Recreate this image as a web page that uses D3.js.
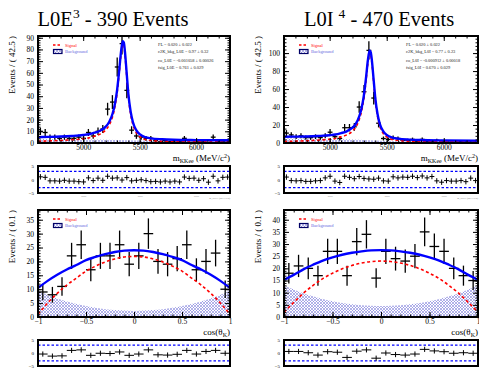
<!DOCTYPE html>
<html>
<head>
<meta charset="utf-8">
<script src="https://cdn.jsdelivr.net/npm/d3@7"></script>
<style>
body { margin: 0; background: #fff; }
svg { display: block; }
svg text { font-family: "Liberation Serif", "Times New Roman", Times, "DejaVu Serif", serif; }
</style>
</head>
<body>
<svg id="chart" width="479" height="370"></svg>
<script>
// ---- data ----
const massRange = [4600, 6300];          // 40 bins of 42.5 MeV
const cosRange = [-1, 1];                // 20 bins of 0.1

const massCountsL0E = [10, 9, 5, 5, 4, 5, 4, 4, 5, 4, 9, 6, 10, 12, 29, 35, 65, 85, 45, 11,
                       6, 5, 4, 4, 2, 1, 2, 1, 2, 1, 4, 2, 2, 1, 1, 0, 5, 1, 1, 2];
const massCountsL0I = [11, 9, 7, 8, 6, 6, 7, 6, 8, 12, 7, 5, 17, 17, 18, 40, 57, 103, 50, 22,
                       5, 4, 6, 5, 3, 3, 4, 2, 4, 2, 2, 3, 2, 2, 1, 1, 2, 1, 1, 1];
const cosCountsL0E = [9, 8, 11, 22, 26, 17, 22, 22, 26, 19, 22, 30, 20, 19, 21, 26, 17, 20, 23, 10];
const cosCountsL0I = [18, 21, 20, 17, 27, 27, 17, 31, 34, 16, 27, 24, 23, 25, 35, 29, 27, 20, 17, 15];

// fit curves, [x, events] pairs
const massTotalL0E = [[4600, 5], [4700, 5.2], [4800, 5.5], [4900, 6], [5000, 6.8], [5050, 7.5], [5100, 8.8],
  [5150, 10.5], [5200, 14], [5230, 18], [5260, 25], [5280, 33], [5300, 45], [5320, 63], [5335, 78],
  [5350, 87], [5360, 86], [5370, 78], [5385, 60], [5400, 42], [5420, 27], [5440, 18], [5470, 11],
  [5500, 7.5], [5550, 5], [5600, 4], [5700, 3.2], [5800, 2.8], [6000, 2.5], [6300, 2.3]];
const massSignalL0E = [[4600, 1.5], [4700, 1.8], [4800, 2.2], [4900, 2.8], [5000, 3.6], [5050, 4.4], [5100, 5.8],
  [5150, 7.6], [5200, 11.2], [5230, 15.3], [5260, 22.4], [5280, 30.4], [5300, 42.4], [5320, 60.5], [5335, 75.5],
  [5350, 84.6], [5360, 83.6], [5370, 75.6], [5385, 57.6], [5400, 39.7], [5420, 24.7], [5440, 15.8], [5470, 8.8],
  [5500, 5.4], [5550, 3], [5600, 2.1], [5700, 1.5], [5800, 1.2], [6000, 1], [6300, 0.9]];
const massBkgL0E = [[4600, 3.5], [4800, 3.3], [5000, 3.2], [5200, 2.8], [5400, 2.3], [5600, 1.9],
  [5800, 1.6], [6000, 1.5], [6300, 1.4]];

const massTotalL0I = [[4600, 7], [4700, 7.1], [4800, 7.3], [4900, 7.8], [5000, 8.6], [5050, 9.4], [5100, 11],
  [5150, 13], [5200, 17], [5230, 21.5], [5260, 30], [5280, 39], [5300, 53], [5320, 74], [5335, 92],
  [5350, 103], [5360, 101], [5370, 92], [5385, 71], [5400, 50], [5420, 32], [5440, 21], [5470, 13],
  [5500, 9], [5550, 6], [5600, 4.8], [5700, 3.8], [5800, 3.3], [6000, 2.9], [6300, 2.6]];
const massSignalL0I = [[4600, 1.8], [4700, 2.1], [4800, 2.5], [4900, 3.2], [5000, 4.2], [5050, 5.1], [5100, 6.8],
  [5150, 9], [5200, 13.2], [5230, 17.8], [5260, 26.4], [5280, 35.5], [5300, 49.6], [5320, 70.7], [5335, 88.8],
  [5350, 99.8], [5360, 97.9], [5370, 89], [5385, 68.1], [5400, 47.2], [5420, 29.3], [5440, 18.4], [5470, 10.6],
  [5500, 6.7], [5550, 3.8], [5600, 2.8], [5700, 2], [5800, 1.6], [6000, 1.3], [6300, 1.1]];
const massBkgL0I = [[4600, 5.2], [4800, 4.8], [5000, 4.4], [5200, 3.8], [5400, 2.8], [5600, 2],
  [5800, 1.7], [6000, 1.6], [6300, 1.5]];

const cosGrid = [-1, -0.9, -0.8, -0.7, -0.6, -0.5, -0.4, -0.3, -0.2, -0.1, 0,
                 0.1, 0.2, 0.3, 0.4, 0.5, 0.6, 0.7, 0.8, 0.9, 1];
const cosTotalL0E = [10.5, 13, 15.2, 17.1, 18.7, 20.5, 21.6, 22.6, 23.4, 23.9, 24,
                     23.9, 23.4, 22.6, 21.6, 20.5, 18.7, 17.1, 15.2, 13, 10.5];
const cosSignalL0E = [1, 5, 8.5, 11.5, 14, 16.5, 18.3, 19.8, 20.9, 21.6, 21.8,
                      21.6, 20.9, 19.8, 18.3, 16.5, 14, 11.5, 8.5, 5, 1];
const cosBkgL0E = [9.5, 8, 6.7, 5.6, 4.7, 4, 3.3, 2.8, 2.5, 2.3, 2.2,
                   2.3, 2.5, 2.8, 3.3, 4, 4.7, 5.6, 6.7, 8, 9.5];
const cosTotalL0I = [15.3, 17.3, 19.6, 21.5, 23.2, 24.5, 25.6, 26.4, 27, 27.4, 27.5,
                     27.4, 27, 26.4, 25.6, 24.5, 23.2, 21.5, 19.6, 17.3, 15.3];
const cosSignalL0I = [2, 6, 9.8, 13, 15.8, 18, 19.8, 21.2, 22.2, 22.8, 23,
                      22.8, 22.2, 21.2, 19.8, 18, 15.8, 13, 9.8, 6, 2];
const cosBkgL0I = [13, 11.3, 9.8, 8.5, 7.4, 6.5, 5.8, 5.2, 4.8, 4.6, 4.5,
                   4.6, 4.8, 5.2, 5.8, 6.5, 7.4, 8.5, 9.8, 11.3, 13];

// pulls (residual / error)
const massPullsL0E = [1, 0.8, -0.5, -0.5, -0.6, -0.3, -0.6, -0.6, -0.8, -0.9, 0.6, -0.4, 0.5, -0.3, 1.2, 0.5, 0.6, -0.2, 0.7, -0.5,
                      -0.3, -0.1, -0.4, -0.8, -0.7, -0.9, -0.6, -0.9, -0.6, -0.9, 0.9, 0.4, 0.5, -0.3, 0.3, -1, 1.2, -0.5, 0.8, 0.9];
const massPullsL0I = [0.9, -0.4, -0.5, -0.4, -0.7, -0.7, -0.5, -0.4, 0.6, 1.2, -0.6, -1.1, 1.2, 0.8, 0.3, 1.1, 0.4, 0.2, 0.1, 0.5,
                      -0.5, -0.6, 1, 0.6, 0.9, 0.8, 1.2, 0.7, 1.3, 0.6, 1.1, -0.5, -1, -0.4, -0.6, -0.6, -0.4, -0.8, 0.5, -0.4];
const cosPullsL0E = [-0.4, -1.2, -1.1, 1, 1.2, -0.9, -0.1, -0.2, 0.4, -0.9, -0.4, 1.2, -0.7, -0.8, -0.5, 1, -0.4, 0.6, 1, -0.1];
const cosPullsL0I = [0.6, 0.6, 0.1, -0.8, 0.5, 0.3, -1.7, 0.7, 1.2, -2, 0, -0.6, -0.8, -0.4, 1.4, 0.8, 0.5, -0.1, 0.1, -0.1];

const statsL0E = ['FL = 0.020 \u00b1 0.022', 'c2K_bkg_L0E = 0.97 \u00b1 0.32',
                  'co_L0E = -0.001058 \u00b1 0.00026', 'fsig_L0E = 0.761 \u00b1 0.029'];
const statsL0I = ['FL = 0.020 \u00b1 0.022', 'c2K_bkg_L0I = 0.77 \u00b1 0.23',
                  'co_L0I = -0.000912 \u00b1 0.00018', 'fsig_L0I = 0.670 \u00b1 0.029'];

// ---- drawing ----
const FONT = '"Liberation Serif", "Times New Roman", Times, "DejaVu Serif", serif';
const svg = d3.select('#chart').attr('font-family', FONT);
const defs = svg.append('defs');
const hatch = defs.append('pattern').attr('id', 'hatch').attr('patternUnits', 'userSpaceOnUse')
    .attr('width', 3).attr('height', 3);
hatch.append('rect').attr('width', 3).attr('height', 3).attr('fill', '#fff');
hatch.append('path').attr('d', 'M0,0L3,3M3,0L0,3').attr('stroke', '#8080dc').attr('stroke-width', 0.6);

const BLUE = '#0000ff', RED = '#ff0000';
let clipId = 0;

function binCenters(range, n) {
    const w = (range[1] - range[0]) / n;
    return d3.range(n).map(i => range[0] + w * (i + 0.5));
}

function ticksInside(g, x, y, x0, x1, y0, y1, o) {
    const maj = 5, mn = 2.5;
    [[o.xMajor, maj], [o.xMinor, mn]].forEach(([vals, len]) => {
        g.append('g').attr('transform', 'translate(0,' + y1 + ')')
            .call(d3.axisBottom(x).tickValues(vals).tickSize(-len).tickFormat(''));
        g.append('g').attr('transform', 'translate(0,' + y0 + ')')
            .call(d3.axisTop(x).tickValues(vals).tickSize(-len).tickFormat(''));
    });
    [[o.yMajor, maj], [o.yMinor, mn]].forEach(([vals, len]) => {
        g.append('g').attr('transform', 'translate(' + x0 + ',0)')
            .call(d3.axisLeft(y).tickValues(vals).tickSize(-len).tickFormat(''));
        g.append('g').attr('transform', 'translate(' + x1 + ',0)')
            .call(d3.axisRight(y).tickValues(vals).tickSize(-len).tickFormat(''));
    });
    g.selectAll('.domain').remove();
    g.selectAll('.tick line').attr('stroke', '#000').attr('stroke-width', 1);
}

function mainPanel(o) {
    const g = svg.append('g');
    const x = d3.scaleLinear().domain(o.xDomain).range([o.x0, o.x1]);
    const y = d3.scaleLinear().domain(o.yDomain).range([o.y1, o.y0]);
    const id = 'clip' + (clipId++);
    defs.append('clipPath').attr('id', id).append('rect')
        .attr('x', o.x0).attr('y', o.y0).attr('width', o.x1 - o.x0).attr('height', o.y1 - o.y0);
    const plot = g.append('g').attr('clip-path', 'url(#' + id + ')');

    plot.append('path').datum(o.bkg)
        .attr('d', d3.area().x(d => x(d[0])).y0(y(0)).y1(d => y(d[1])).curve(d3.curveMonotoneX))
        .attr('fill', 'url(#hatch)').attr('stroke', 'none');

    const centers = binCenters(o.xDomain, o.counts.length);
    const hw = (o.xDomain[1] - o.xDomain[0]) / o.counts.length / 2;
    const pts = plot.append('g').attr('stroke', '#000').attr('stroke-width', 1.3);
    o.counts.forEach((n, i) => {
        if (n <= 0) return;
        const c = centers[i], e = Math.sqrt(n);
        pts.append('line').attr('x1', x(c - hw)).attr('x2', x(c + hw)).attr('y1', y(n)).attr('y2', y(n));
        pts.append('line').attr('x1', x(c)).attr('x2', x(c)).attr('y1', y(n - e)).attr('y2', y(n + e));
    });

    plot.append('path').datum(o.signal)
        .attr('d', d3.line().x(d => x(d[0])).y(d => y(d[1])).curve(d3.curveMonotoneX))
        .attr('fill', 'none').attr('stroke', RED).attr('stroke-width', 1.6).attr('stroke-dasharray', '3,2.5');
    plot.append('path').datum(o.total)
        .attr('d', d3.line().x(d => x(d[0])).y(d => y(d[1])).curve(d3.curveMonotoneX))
        .attr('fill', 'none').attr('stroke', BLUE).attr('stroke-width', 2.4);

    // axes
    ticksInside(g.append('g'), x, y, o.x0, o.x1, o.y0, o.y1, o);
    const lab = g.append('g');
    lab.append('g').attr('transform', 'translate(' + o.x0 + ',0)')
        .call(d3.axisLeft(y).tickValues(o.yMajor).tickSize(0).tickPadding(4).tickFormat(d3.format('d')));
    lab.append('g').attr('transform', 'translate(0,' + o.y1 + ')')
        .call(d3.axisBottom(x).tickValues(o.xMajor).tickSize(0).tickPadding(2).tickFormat(o.xFmt));
    lab.selectAll('.domain').remove();
    lab.selectAll('g').attr('font-family', FONT).attr('font-size', 7.5);
    lab.selectAll('text').attr('fill', '#000');

    g.append('rect').attr('x', o.x0).attr('y', o.y0).attr('width', o.x1 - o.x0).attr('height', o.y1 - o.y0)
        .attr('fill', 'none').attr('stroke', '#000').attr('stroke-width', 2);

    // axis titles
    g.append('text').attr('transform', 'translate(' + (o.x0 - 23) + ',' + o.y0 + ') rotate(-90)')
        .attr('text-anchor', 'end').attr('font-size', 9).text(o.yTitle);
    const xt = g.append('text').attr('x', o.x1).attr('y', o.y1 + 18).attr('text-anchor', 'end')
        .attr('font-size', 9);
    o.xTitle(xt);

    // legend
    const lg = g.append('g').attr('font-size', 4.6);
    lg.append('line').attr('x1', o.x0 + 15).attr('x2', o.x0 + 24).attr('y1', o.y0 + 9).attr('y2', o.y0 + 9)
        .attr('stroke', RED).attr('stroke-width', 1.5).attr('stroke-dasharray', '2.5,2');
    lg.append('text').attr('x', o.x0 + 27).attr('y', o.y0 + 10.6).attr('fill', RED).text('Signal');
    lg.append('rect').attr('x', o.x0 + 15.5).attr('y', o.y0 + 13.5).attr('width', 8.5).attr('height', 4)
        .attr('fill', 'url(#hatch)').attr('stroke', '#000066').attr('stroke-width', 1.2);
    lg.append('text').attr('x', o.x0 + 27).attr('y', o.y0 + 17.3).attr('fill', '#6a6ae0').text('Background');

    if (o.stats) {
        const st = g.append('g').attr('font-size', 4.4).attr('fill', '#222');
        const ys = [9.5, 17, 26, 33];
        o.stats.forEach((s, i) => st.append('text').attr('x', o.statsX).attr('y', o.y0 + ys[i]).text(s));
    }
}

function pullPanel(o) {
    const g = svg.append('g');
    const x = d3.scaleLinear().domain(o.xDomain).range([o.x0, o.x1]);
    const y = d3.scaleLinear().domain([-5, 5]).range([o.y1, o.y0]);
    const centers = binCenters(o.xDomain, o.pulls.length);
    const hw = (o.xDomain[1] - o.xDomain[0]) / o.pulls.length / 2;

    [-3, 3].forEach(v => g.append('line').attr('x1', o.x0).attr('x2', o.x1).attr('y1', y(v)).attr('y2', y(v))
        .attr('stroke', BLUE).attr('stroke-width', 1.2).attr('stroke-dasharray', '2.5,2'));

    const pts = g.append('g').attr('stroke', '#000').attr('stroke-width', 1);
    o.pulls.forEach((p, i) => {
        const c = centers[i];
        pts.append('line').attr('x1', x(c - hw)).attr('x2', x(c + hw)).attr('y1', y(p)).attr('y2', y(p));
        pts.append('line').attr('x1', x(c)).attr('x2', x(c)).attr('y1', y(p - 1)).attr('y2', y(p + 1));
    });

    g.append('rect').attr('x', o.x0).attr('y', o.y0).attr('width', o.x1 - o.x0).attr('height', o.y1 - o.y0)
        .attr('fill', 'none').attr('stroke', '#000').attr('stroke-width', 2);

    const lab = g.append('g');
    lab.append('g').attr('transform', 'translate(' + (o.x0 - 2) + ',0)')
        .call(d3.axisLeft(y).tickValues([-5, 0, 5]).tickSize(0).tickPadding(2)
            .tickFormat(d => d < 0 ? '\u2212' + Math.abs(d) : d));
    if (o.tinyTitle) {
        lab.append('g').attr('transform', 'translate(0,' + (o.y1 + 1) + ')')
            .call(d3.axisBottom(x).tickValues(o.xMajor).tickSize(0).tickPadding(1).tickFormat(o.xFmt))
            .selectAll('text').attr('font-size', 2.5).attr('fill', '#777');
        g.append('text').attr('x', o.x1).attr('y', o.y1 + 6).attr('text-anchor', 'end')
            .attr('font-size', 2.5).attr('fill', '#777').text(o.tinyTitle);
    }
    lab.selectAll('.domain').remove();
    lab.selectAll('g').attr('font-family', FONT).attr('font-size', 5);
}

// titles
function title(xc, name, sup, rest) {
    const t = svg.append('text').attr('x', xc).attr('y', 25.5).attr('text-anchor', 'middle')
        .attr('font-size', 20.5);
    t.append('tspan').text(name);
    t.append('tspan').attr('dy', -7.5).attr('font-size', 13.5).text(sup);
    t.append('tspan').attr('dy', 7.5).text(rest);
}
title(113, 'L0E', '3', ' - 390 Events');
title(379, 'L0I ', '4', ' - 470 Events');

const massTitle = t => {
    t.append('tspan').text('m');
    t.append('tspan').attr('dy', 2).attr('font-size', 6).text('KKee');
    t.append('tspan').attr('dy', -2).text(' (MeV/c');
    t.append('tspan').attr('dy', -3).attr('font-size', 6).text('2');
    t.append('tspan').attr('dy', 3).text(')');
};
const cosTitle = t => {
    t.append('tspan').text('cos(\u03b8');
    t.append('tspan').attr('dy', 2).attr('font-size', 6).text('K');
    t.append('tspan').attr('dy', -2).text(')');
};

const panels = [
    { x0: 38, x1: 230, yMaxMass: 91.5, yMajMass: d3.range(0, 91, 10), yMinMass: d3.range(0, 92, 2),
      yMaxCos: 38.5, mass: [massCountsL0E, massTotalL0E, massSignalL0E, massBkgL0E],
      cos: [cosCountsL0E, cosTotalL0E, cosSignalL0E, cosBkgL0E], stats: statsL0E, statsX: 158,
      pulls: [massPullsL0E, cosPullsL0E] },
    { x0: 284, x1: 478, yMaxMass: 119, yMajMass: d3.range(0, 101, 20), yMinMass: d3.range(0, 119, 4),
      yMaxCos: 44, mass: [massCountsL0I, massTotalL0I, massSignalL0I, massBkgL0I],
      cos: [cosCountsL0I, cosTotalL0I, cosSignalL0I, cosBkgL0I], stats: statsL0I, statsX: 406,
      pulls: [massPullsL0I, cosPullsL0I] }
];

panels.forEach(p => {
    mainPanel({
        x0: p.x0, x1: p.x1, y0: 36, y1: 143, xDomain: massRange, yDomain: [0, p.yMaxMass],
        xMajor: [5000, 5500, 6000], xMinor: d3.range(4600, 6301, 100), xFmt: d3.format('d'),
        yMajor: p.yMajMass, yMinor: p.yMinMass,
        counts: p.mass[0], total: p.mass[1], signal: p.mass[2], bkg: p.mass[3],
        yTitle: 'Events / ( 42.5 )', xTitle: massTitle, stats: p.stats, statsX: p.statsX
    });
    pullPanel({ x0: p.x0, x1: p.x1, y0: 166, y1: 193, xDomain: massRange, pulls: p.pulls[0],
        xMajor: [5000, 5500, 6000], xFmt: d3.format('d'), tinyTitle: 'm_KKee (MeV/c^2)' });
    mainPanel({
        x0: p.x0, x1: p.x1, y0: 210, y1: 317, xDomain: cosRange, yDomain: [0, p.yMaxCos],
        xMajor: [-1, -0.5, 0, 0.5, 1], xMinor: d3.range(-10, 11).map(v => v / 10),
        xFmt: d => d < 0 ? '\u2212' + Math.abs(d) : d,
        yMajor: d3.range(0, p.yMaxCos, 5), yMinor: d3.range(0, p.yMaxCos, 1),
        counts: p.cos[0], total: cosGrid.map((c, i) => [c, p.cos[1][i]]),
        signal: cosGrid.map((c, i) => [c, p.cos[2][i]]), bkg: cosGrid.map((c, i) => [c, p.cos[3][i]]),
        yTitle: 'Events / ( 0.1 )', xTitle: cosTitle
    });
    pullPanel({ x0: p.x0, x1: p.x1, y0: 340, y1: 366, xDomain: cosRange, pulls: p.pulls[1],
        xMajor: [-1, -0.5, 0, 0.5, 1], xFmt: d3.format('') });
});
</script>
</body>
</html>
